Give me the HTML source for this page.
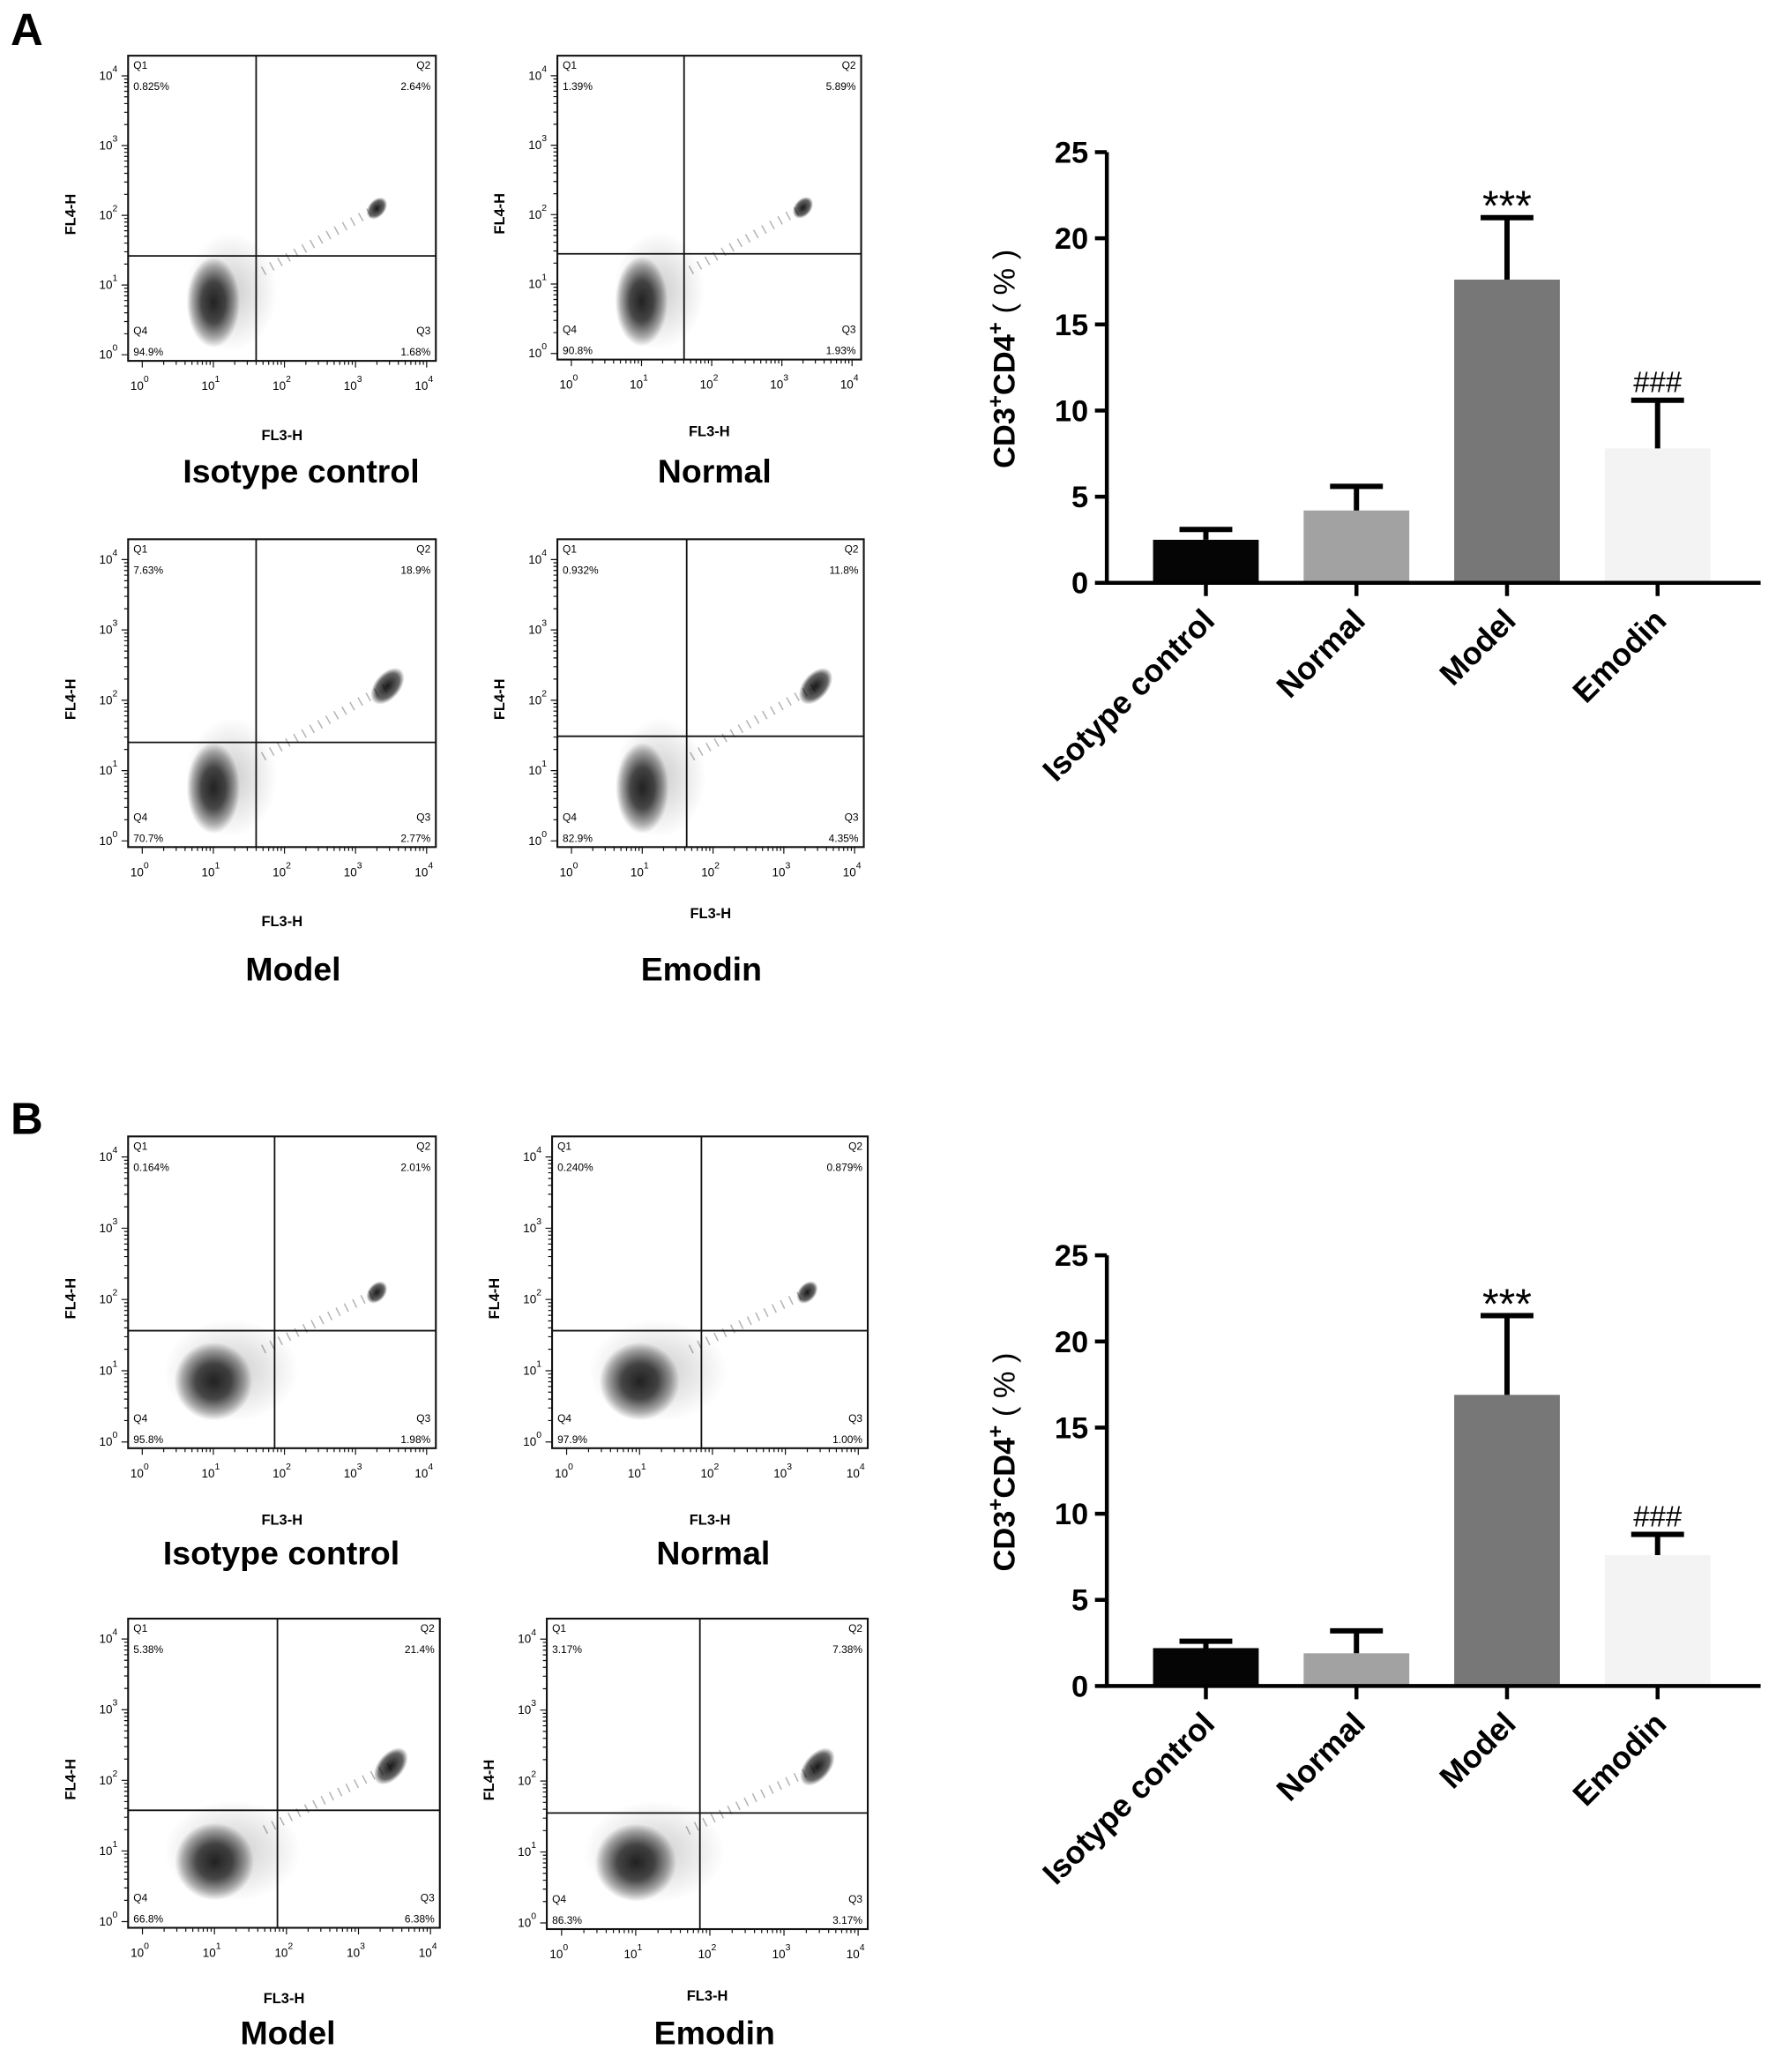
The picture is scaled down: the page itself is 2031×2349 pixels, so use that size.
<!DOCTYPE html>
<html><head><meta charset="utf-8"><style>
html,body{margin:0;padding:0;background:#fff}
svg{display:block;font-family:"Liberation Sans",Arial,sans-serif}
</style></head><body>
<svg id="fig" width="2031" height="2349" viewBox="0 0 1356 1568" xmlns="http://www.w3.org/2000/svg">
<defs>
<radialGradient id="blob"><stop offset="0" stop-color="#000" stop-opacity="0.85"/><stop offset="0.45" stop-color="#000" stop-opacity="0.7"/><stop offset="0.8" stop-color="#000" stop-opacity="0.3"/><stop offset="1" stop-color="#000" stop-opacity="0"/></radialGradient>
<radialGradient id="hblob"><stop offset="0" stop-color="#000" stop-opacity="0.9"/><stop offset="0.7" stop-color="#000" stop-opacity="0.6"/><stop offset="1" stop-color="#000" stop-opacity="0"/></radialGradient>
<radialGradient id="haze"><stop offset="0" stop-color="#000" stop-opacity="0.2"/><stop offset="1" stop-color="#000" stop-opacity="0"/></radialGradient>
</defs>
<text x="8" y="34" font-size="34" font-weight="bold">A</text>
<text x="8" y="858" font-size="34" font-weight="bold">B</text>
<g id="plots"></g>
</svg>
<script>
// ---------- Bar chart data ----------
const categories = ["Isotype control","Normal","Model","Emodin"];
const barColors = ["#050505","#a2a2a2","#777777","#f3f3f3"];
const valuesA = [2.5, 4.2, 17.6, 7.8];
const errorsA = [0.6, 1.4, 3.6, 2.8];
const valuesB = [2.2, 1.9, 16.9, 7.6];
const errorsB = [0.4, 1.3, 4.6, 1.2];
const sigLabels = ["", "", "***", "###"];
const yTicks = [0,5,10,15,20,25];

// ---------- Flow plot data (quadrant percentages) ----------
const pctIso_A = ["0.825%","2.64%","1.68%","94.9%"];
const pctNor_A = ["1.39%","5.89%","1.93%","90.8%"];
const pctMod_A = ["7.63%","18.9%","2.77%","70.7%"];
const pctEmo_A = ["0.932%","11.8%","4.35%","82.9%"];
const pctIso_B = ["0.164%","2.01%","1.98%","95.8%"];
const pctNor_B = ["0.240%","0.879%","1.00%","97.9%"];
const pctMod_B = ["5.38%","21.4%","6.38%","66.8%"];
const pctEmo_B = ["3.17%","7.38%","3.17%","86.3%"];
// cluster descriptors: [log10 x, log10 y, spread x (decades), spread y (decades)]
const mainClusterA = [1.0, 0.75, 0.75, 1.3];
const mainClusterB = [1.0, 0.85, 1.1, 1.1];
const highClusterSmall = [3.3, 2.1, 0.35, 0.4];
const highClusterLarge = [3.45, 2.2, 0.6, 0.6];

const NS="http://www.w3.org/2000/svg";
const root=document.getElementById('plots');
function mk(tag,attrs,parent){const e=document.createElementNS(NS,tag);for(const k in attrs)e.setAttribute(k,attrs[k]);(parent||root).appendChild(e);return e;}

function flow(L,T,W,H,vF,hF,pcts,main,high,fl3y,title,ty,tcx,name){
  const g=mk('g',{});
  
  
  const sx=l=>L+W*(0.046+l/4*0.924);
  const sy=l=>T+H*(0.98-l/4*0.914);
  const hz=mk('ellipse',{cx:sx(main[0]+0.25),cy:sy(main[1]+0.15),rx:W*main[2]*0.2,ry:H*main[3]*0.15,fill:'url(#haze)'},g);
  
  
  const c=mk('ellipse',{cx:sx(main[0]),cy:sy(main[1]),rx:W*main[2]*0.231*0.5,ry:H*main[3]*0.228*0.5,fill:'url(#blob)'},g);
  
  
  const hx=sx(high[0]),hy=sy(high[1]);
  const h=mk('ellipse',{cx:hx,cy:hy,rx:W*high[2]*0.231*0.5,ry:H*high[3]*0.07,fill:'url(#hblob)',transform:`rotate(-50 ${hx} ${hy})`},g);
  
  
  const tr=mk('line',{x1:sx(main[0]+0.7),y1:sy(main[1]+0.45),x2:hx,y2:hy,stroke:'#000','stroke-opacity':0.3,'stroke-width':7,'stroke-dasharray':'1 6'},g);
  
  
  const b=mk('rect',{x:L,y:T,width:W,height:H,fill:'none',stroke:'#111','stroke-width':1.4},g);
  
  
  const vx=L+W*vF, hy2=T+H*hF;
  const gl=mk('path',{d:`M${vx} ${T}V${T+H}M${L} ${hy2}H${L+W}`,stroke:'#111','stroke-width':1.2},g);
  
  
  let d='';
  for(let k=0;k<4;k++)for(let m=1;m<=10;m++){const l=k+Math.log10(m);const len=m===1||m===10?5:3;d+=`M${sx(l)} ${T+H}v${len}M${L} ${sy(l)}h${-len}`;}
  mk('path',{d,stroke:'#111','stroke-width':0.8},g);
  for(let k=0;k<=4;k++){
    const t=mk('text',{x:sx(k)-2,y:T+H+22,'font-size':9,'text-anchor':'middle'},g);
    t.innerHTML=`10<tspan dy="-6" font-size="7">${k}</tspan>`;
    
    
    const u=mk('text',{x:L-8,y:sy(k)+3,'font-size':9,'text-anchor':'end'},g);
    u.innerHTML=`10<tspan dy="-6" font-size="7">${k}</tspan>`;
    
    
  }
  const q=[['Q1',L+4,T+10,'start'],['Q2',L+W-4,T+10,'end'],['Q3',L+W-4,T+H-20,'end'],['Q4',L+4,T+H-20,'start']];
  q.forEach((a,i)=>{
    const t=mk('text',{x:a[1],y:a[2],'font-size':8,'text-anchor':a[3]},g);t.textContent=a[0];
    
    
    const p=mk('text',{x:a[1],y:a[2]+16,'font-size':8,'text-anchor':a[3]},g);p.textContent=pcts[i];
    
    
  });
  const yl=mk('text',{x:0,y:0,'font-size':11,'font-weight':'bold','text-anchor':'middle',transform:`translate(${L-40} ${T+H*0.52}) rotate(-90)`},g);
  yl.textContent='FL4-H';
  
  
  const xl=mk('text',{x:L+W*0.5,y:fl3y,'font-size':11,'font-weight':'bold','text-anchor':'middle'},g);
  xl.textContent='FL3-H';
  
  
  const tt=mk('text',{x:tcx,y:ty,'font-size':25,'font-weight':'bold','text-anchor':'middle'},g);
  tt.textContent=title;
  
  
}
flow(97,42,233,231,0.416,0.656,pctIso_A,mainClusterA,highClusterSmall,333,'Isotype control',365,228,'flow-isotype-a');
flow(422,42,230,230,0.417,0.652,pctNor_A,mainClusterA,highClusterSmall,330,'Normal',365,541,'flow-normal-a');
flow(97,408,233,233,0.416,0.66,pctMod_A,mainClusterA,highClusterLarge,701,'Model',742,222,'flow-model-a');
flow(422,408,232,233,0.422,0.64,pctEmo_A,mainClusterA,highClusterLarge,695,'Emodin',742,531,'flow-emodin-a');
flow(97,860,233,236,0.476,0.623,pctIso_B,mainClusterB,highClusterSmall,1154,'Isotype control',1184,213,'flow-isotype-b');
flow(418,860,239,236,0.473,0.623,pctNor_B,mainClusterB,highClusterSmall,1154,'Normal',1184,540,'flow-normal-b');
flow(97,1225,236,234,0.479,0.62,pctMod_B,mainClusterB,highClusterLarge,1516,'Model',1547,218,'flow-model-b');
flow(414,1225,243,235,0.477,0.626,pctEmo_B,mainClusterB,highClusterLarge,1514,'Emodin',1547,541,'flow-emodin-b');

function barChart(y0,values,errors,name){
  const g=mk('g',{});
  
  
  const ax=838, xEnd=1333, pxPer=(326)/25;
  const Y=v=>y0-v*pxPer;
  const cx=i=>913+i*114;
  const bw=80;
  values.forEach((v,i)=>{
    const r=mk('rect',{x:cx(i)-bw/2,y:Y(v),width:bw,height:Y(0)-Y(v),fill:barColors[i]},g);
    
    
    const top=Y(v+errors[i]);
    const e=mk('path',{d:`M${cx(i)} ${Y(v)}V${top}M${cx(i)-20} ${top}H${cx(i)+20}`,stroke:'#000','stroke-width':4,fill:'none'},g);
    
    
    if(sigLabels[i]){
      const star=sigLabels[i]==='***';
      const s=mk('text',{x:cx(i),y:star?top+2:top-6,'font-size':star?32:22,'text-anchor':'middle'},g);
      s.textContent=sigLabels[i];
      
      
    }
    mk('path',{d:`M${cx(i)} ${y0}v10`,stroke:'#000','stroke-width':3},g);
    const lb=mk('text',{x:0,y:0,'font-size':24,'font-weight':'bold','text-anchor':'end',transform:`translate(${cx(i)+8} ${y0+30}) rotate(-45)`},g);
    lb.textContent=categories[i];
    
    
  });
  const axes=mk('path',{d:`M${ax} ${Y(25)}V${y0}H${xEnd}`,stroke:'#000','stroke-width':3,fill:'none'},g);
  
  
  yTicks.forEach(t=>{
    mk('path',{d:`M${ax} ${Y(t)}h-9`,stroke:'#000','stroke-width':3},g);
    const l=mk('text',{x:ax-14,y:Y(t)+8,'font-size':23,'font-weight':'bold','text-anchor':'end'},g);
    l.textContent=t;
    
    
  });
  const yt=mk('text',{x:0,y:0,'font-size':23,'font-weight':'bold','text-anchor':'middle',transform:`translate(768 ${Y(13)}) rotate(-90)`},g);
  yt.innerHTML='CD3<tspan dy="-9" font-size="16">+</tspan><tspan dy="9">CD4</tspan><tspan dy="-9" font-size="16">+</tspan><tspan dy="9" font-weight="normal"> ( % )</tspan>';
  
  
}
barChart(441,valuesA,errorsA,'bar-chart-a');
barChart(1276,valuesB,errorsB,'bar-chart-b');
</script>
</body></html>
